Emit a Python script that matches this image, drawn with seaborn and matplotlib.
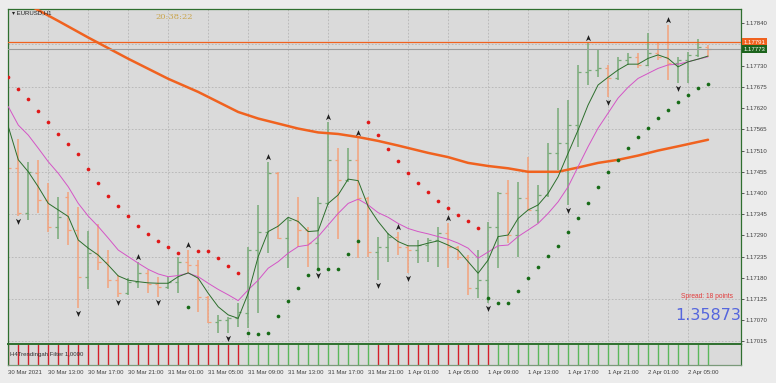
import numpy as np
import matplotlib
matplotlib.use("Agg")
import matplotlib.pyplot as plt
import matplotlib.transforms as mtransforms
from matplotlib.path import Path
import seaborn as sns

# EURUSD H1 bars, 30 Mar 2021 09:00 onwards
opens = [1.17584, 1.17465, 1.17348, 1.17452, 1.17382, 1.17312, 1.17390, 1.17304, 1.17182, 1.17244,
         1.17221, 1.17174, 1.17141, 1.17169, 1.17193, 1.17164, 1.17156, 1.17169, 1.17221, 1.17213,
         1.17130, 1.17066, 1.17070, 1.17076, 1.17089, 1.17252, 1.17299, 1.17452, 1.17283, 1.17330,
         1.17304, 1.17270, 1.17374, 1.17486, 1.17434, 1.17486, 1.17387, 1.17247, 1.17260, 1.17286,
         1.17260, 1.17252, 1.17265, 1.17278, 1.17296, 1.17260, 1.17234, 1.17154, 1.17174, 1.17312,
         1.17400, 1.17291, 1.17387, 1.17356, 1.17395, 1.17504, 1.17530, 1.17576, 1.17714, 1.17719,
         1.17724, 1.17698, 1.17745, 1.17753, 1.17732, 1.17763, 1.17753, 1.17737, 1.17745, 1.17758,
         1.17779]
highs = [1.17628, 1.17540, 1.17480, 1.17486, 1.17426, 1.17390, 1.17403, 1.17364, 1.17301, 1.17320,
         1.17252, 1.17187, 1.17180, 1.17221, 1.17200, 1.17182, 1.17182, 1.17234, 1.17252, 1.17226,
         1.17133, 1.17084, 1.17079, 1.17115, 1.17260, 1.17369, 1.17480, 1.17455, 1.17335, 1.17390,
         1.17312, 1.17390, 1.17584, 1.17517, 1.17517, 1.17543, 1.17390, 1.17286, 1.17296, 1.17299,
         1.17265, 1.17278, 1.17283, 1.17312, 1.17322, 1.17262, 1.17239, 1.17252, 1.17325, 1.17403,
         1.17434, 1.17429, 1.17493, 1.17421, 1.17530, 1.17620, 1.17641, 1.17732, 1.17789, 1.17771,
         1.17732, 1.17753, 1.17763, 1.17763, 1.17815, 1.17789, 1.17836, 1.17753, 1.17766, 1.17799,
         1.17784]
lows = [1.17447, 1.17340, 1.17330, 1.17348, 1.17299, 1.17281, 1.17265, 1.17102, 1.17151, 1.17200,
        1.17154, 1.17130, 1.17136, 1.17154, 1.17141, 1.17130, 1.17151, 1.17141, 1.17193, 1.17091,
        1.17063, 1.17037, 1.17037, 1.17053, 1.17050, 1.17089, 1.17244, 1.17281, 1.17206, 1.17260,
        1.17208, 1.17200, 1.17369, 1.17281, 1.17429, 1.17231, 1.17234, 1.17174, 1.17221, 1.17239,
        1.17193, 1.17219, 1.17221, 1.17208, 1.17206, 1.17226, 1.17136, 1.17128, 1.17115, 1.17206,
        1.17270, 1.17234, 1.17356, 1.17322, 1.17390, 1.17460, 1.17369, 1.17519, 1.17680, 1.17701,
        1.17649, 1.17693, 1.17732, 1.17724, 1.17730, 1.17745, 1.17693, 1.17685, 1.17685, 1.17753,
        1.17753]
closes = [1.17465, 1.17348, 1.17454, 1.17382, 1.17312, 1.17338, 1.17304, 1.17182, 1.17244, 1.17221,
          1.17174, 1.17141, 1.17169, 1.17193, 1.17164, 1.17156, 1.17169, 1.17221, 1.17213, 1.17130,
          1.17066, 1.17070, 1.17076, 1.17091, 1.17252, 1.17299, 1.17452, 1.17283, 1.17330, 1.17304,
          1.17270, 1.17374, 1.17486, 1.17434, 1.17486, 1.17387, 1.17247, 1.17260, 1.17286, 1.17260,
          1.17252, 1.17265, 1.17278, 1.17296, 1.17260, 1.17234, 1.17154, 1.17174, 1.17312, 1.17400,
          1.17291, 1.17387, 1.17356, 1.17395, 1.17504, 1.17530, 1.17576, 1.17714, 1.17719, 1.17724,
          1.17698, 1.17745, 1.17753, 1.17732, 1.17763, 1.17753, 1.17737, 1.17745, 1.17758, 1.17779,
          1.17773]

# moving averages
ma_fast = [1.17572, 1.17486, 1.17455, 1.17416, 1.17373, 1.17356, 1.17339, 1.17278, 1.17257, 1.17239,
           1.17213, 1.17185, 1.17174, 1.17170, 1.17167, 1.17166, 1.17166, 1.17183, 1.17193, 1.17179,
           1.17140, 1.17105, 1.17084, 1.17075, 1.17140, 1.17235, 1.17300, 1.17314, 1.17337, 1.17326,
           1.17300, 1.17302, 1.17373, 1.17395, 1.17436, 1.17432, 1.17365, 1.17326, 1.17294, 1.17274,
           1.17263, 1.17263, 1.17270, 1.17276, 1.17265, 1.17252, 1.17222, 1.17192, 1.17226, 1.17287,
           1.17291, 1.17334, 1.17356, 1.17369, 1.17399, 1.17442, 1.17503, 1.17563, 1.17628, 1.17680,
           1.17700, 1.17719, 1.17734, 1.17734, 1.17749, 1.17758, 1.17749, 1.17727, 1.17740, 1.17747,
           1.17755]
ma_mid = [1.17624, 1.17576, 1.17550, 1.17516, 1.17481, 1.17451, 1.17416, 1.17373, 1.17340, 1.17313,
          1.17283, 1.17252, 1.17235, 1.17218, 1.17202, 1.17190, 1.17183, 1.17186, 1.17192, 1.17183,
          1.17166, 1.17150, 1.17136, 1.17121, 1.17149, 1.17174, 1.17205, 1.17222, 1.17244, 1.17261,
          1.17265, 1.17287, 1.17317, 1.17347, 1.17373, 1.17384, 1.17369, 1.17349, 1.17337, 1.17321,
          1.17308, 1.17300, 1.17294, 1.17287, 1.17280, 1.17270, 1.17257, 1.17231, 1.17247, 1.17263,
          1.17265, 1.17287, 1.17304, 1.17321, 1.17347, 1.17377, 1.17416, 1.17468, 1.17520, 1.17568,
          1.17607, 1.17646, 1.17674, 1.17697, 1.17710, 1.17723, 1.17732, 1.17734, 1.17740, 1.17747,
          1.17753]
ma_slow_bars = [0, 3, 5, 8, 12, 14, 16, 19, 23, 25, 27, 29, 31, 33, 35, 37, 39, 42, 44, 46, 48,
                50, 52, 55, 57, 59, 61, 63, 65, 67, 70]
ma_slow = [1.17916, 1.17874, 1.17846, 1.17803, 1.17748, 1.17722, 1.17696, 1.17662, 1.17610, 1.17593,
           1.17580, 1.17567, 1.17557, 1.17553, 1.17545, 1.17535, 1.17523, 1.17504, 1.17493, 1.17478,
           1.17470, 1.17464, 1.17455, 1.17455, 1.17466, 1.17478, 1.17486, 1.17497, 1.17510, 1.17521,
           1.17538]

# parabolic SAR
sar = [1.17700, 1.17669, 1.17643, 1.17613, 1.17583, 1.17554, 1.17526, 1.17500, 1.17461, 1.17425,
       1.17393, 1.17366, 1.17340, 1.17315, 1.17294, 1.17276, 1.17259, 1.17244, 1.17105, 1.17250,
       1.17250, 1.17232, 1.17211, 1.17193, 1.17036, 1.17034, 1.17037, 1.17081, 1.17121, 1.17153,
       1.17187, 1.17202, 1.17202, 1.17202, 1.17242, 1.17276, 1.17585, 1.17550, 1.17514, 1.17483,
       1.17453, 1.17425, 1.17402, 1.17380, 1.17360, 1.17344, 1.17327, 1.17308, 1.17127, 1.17116,
       1.17116, 1.17147, 1.17179, 1.17207, 1.17237, 1.17263, 1.17300, 1.17334, 1.17375, 1.17415,
       1.17454, 1.17486, 1.17517, 1.17544, 1.17568, 1.17594, 1.17615, 1.17635, 1.17654, 1.17671,
       1.17683]

fractal_up = [13, 18, 26, 32, 35, 39, 44, 58, 66]
fractal_down = [1, 7, 11, 15, 22, 31, 37, 40, 48, 56, 60, 67]

# trend filter sub-window: 1 = up (green), -1 = down (red)
trend_filter = [-1, -1, -1, -1, -1, -1, -1, -1, -1, -1, -1, -1, -1, -1, -1, -1, -1, -1, -1, -1,
                -1, -1, -1, -1, 1, 1, 1, 1, 1, 1, 1, 1, 1, 1, 1, 1, 1, -1, -1, -1,
                -1, -1, -1, -1, -1, -1, -1, -1, -1, 1, 1, 1, 1, 1, 1, 1, 1, 1, 1, 1,
                1, 1, 1, 1, 1, 1, 1, 1, 1, 1, 1]

ask, bid = 1.17791, 1.17773
price_ticks = [1.17015, 1.17070, 1.17125, 1.17180, 1.17235, 1.17290, 1.17345, 1.17400,
               1.17455, 1.17510, 1.17565, 1.17620, 1.17675, 1.17730, 1.17785, 1.17840]
hidden_tick = 1.17785  # sits under the ask/bid price tags
grid_levels = [1.17015, 1.17125, 1.17235, 1.17345, 1.17455, 1.17565, 1.17675, 1.17785]
date_bars = [0, 4, 8, 12, 16, 20, 24, 28, 32, 36, 40, 44, 48, 52, 56, 60, 64, 68]
date_labels = ["30 Mar 2021", "30 Mar 13:00", "30 Mar 17:00", "30 Mar 21:00", "31 Mar 01:00",
               "31 Mar 05:00", "31 Mar 09:00", "31 Mar 13:00", "31 Mar 17:00", "31 Mar 21:00",
               "1 Apr 01:00", "1 Apr 05:00", "1 Apr 09:00", "1 Apr 13:00", "1 Apr 17:00",
               "1 Apr 21:00", "2 Apr 01:00", "2 Apr 05:00"]

W, H = 776, 383
BG = "#ececec"
PLOT_BG = "#dadada"
FRAME = "#2f6f2f"
BULL = "#78aa78"
BEAR = "#f3a27c"
ORANGE = "#f0621f"
FS = 4.3

sns.set_theme(style="white")
plt.rcParams["font.family"] = ["Liberation Sans", "DejaVu Sans"]

fig = plt.figure(figsize=(W / 100, H / 100), dpi=100, facecolor=BG)
ax = fig.add_axes([8 / W, 1 - 344 / H, 733 / W, 335.5 / H], facecolor=PLOT_BG)
axp = fig.add_axes([8 / W, 1 - 365 / H, 733 / W, 21 / H], facecolor=PLOT_BG)

x = np.arange(len(opens))
o, h, l, c = map(np.array, (opens, highs, lows, closes))
cols = np.where(c >= o, BULL, BEAR)

# grid
for g in grid_levels:
    ax.axhline(g, color="#b4b4b4", lw=0.6, ls=(0, (2, 2)), zorder=0)
for d in date_bars:
    ax.axvline(d, color="#b4b4b4", lw=0.6, ls=(0, (2, 2)), zorder=0)

# OHLC bars
ax.vlines(x, l, h, colors=cols, lw=1.1, zorder=2)
ax.hlines(o, x - 0.32, x, colors=cols, lw=0.9, zorder=2)
ax.hlines(c, x, x + 0.32, colors=cols, lw=0.9, zorder=2)

# moving averages
sns.lineplot(x=ma_slow_bars, y=ma_slow, ax=ax, color=ORANGE, lw=1.8, zorder=3)
sns.lineplot(x=x, y=ma_mid, ax=ax, color="#d455c6", lw=0.7, zorder=3)
sns.lineplot(x=x, y=ma_fast, ax=ax, color="#2c6e2c", lw=0.7, zorder=3)

# SAR dots
sar_a = np.array(sar)
above = sar_a > c
ax.scatter(x[above], sar_a[above], s=7, color="#e01818", zorder=4, linewidths=0)
ax.scatter(x[~above], sar_a[~above], s=7, color="#176b17", zorder=4, linewidths=0)

# fractal arrows
up_mark = Path([(0, 1), (0.75, -0.8), (0, -0.3), (-0.75, -0.8), (0, 1)],
               [Path.MOVETO, Path.LINETO, Path.LINETO, Path.LINETO, Path.CLOSEPOLY])
dn_mark = Path([(0, -1), (0.75, 0.8), (0, 0.3), (-0.75, 0.8), (0, -1)],
               [Path.MOVETO, Path.LINETO, Path.LINETO, Path.LINETO, Path.CLOSEPOLY])
up_tr = mtransforms.offset_copy(ax.transData, fig=fig, x=0, y=5, units="dots")
dn_tr = mtransforms.offset_copy(ax.transData, fig=fig, x=0, y=-5, units="dots")
ax.scatter(fractal_up, h[fractal_up], marker=up_mark, s=24, color="#1e1e1e",
           transform=up_tr, zorder=5, linewidths=0)
ax.scatter(fractal_down, l[fractal_down], marker=dn_mark, s=24, color="#1e1e1e",
           transform=dn_tr, zorder=5, linewidths=0)

# ask / bid lines
ax.axhline(ask, color=ORANGE, lw=0.9, zorder=3)
ax.axhline(bid, color="#9c9c9c", lw=0.8, zorder=3)

ax.set_xlim(-0.03, 73.3)
ax.set_ylim(1.170085, 1.178783)
ax.set_xticks(date_bars)
ax.set_xticklabels([])
ax.tick_params(axis="x", length=0)
ax.yaxis.tick_right()
ax.set_yticks(price_ticks)
ax.set_yticklabels(["" if v == hidden_tick else f"{v:.5f}" for v in price_ticks])
ax.tick_params(axis="y", length=2, width=0.6, pad=1.5, labelsize=FS,
               labelcolor="#404040", color="#404040")
ax.set_xlabel("")
ax.set_ylabel("")
for s in ax.spines.values():
    s.set_color(FRAME)
    s.set_linewidth(0.9)

tag_tr = mtransforms.blended_transform_factory(ax.transAxes, ax.transData)
ax.text(1.004, ask, f"{ask:.5f}", transform=tag_tr, fontsize=FS, color="white",
        va="center", ha="left", zorder=10, clip_on=False,
        bbox=dict(boxstyle="square,pad=0.25", fc=ORANGE, ec="none"))
ax.text(1.004, bid, f"{bid:.5f}", transform=tag_tr, fontsize=FS, color="white",
        va="center", ha="left", zorder=10, clip_on=False,
        bbox=dict(boxstyle="square,pad=0.25", fc="#1c641c", ec="none"))

# trend filter sub-window
pcols = np.where(np.array(trend_filter) > 0, "#5bb85b", "#d41f2a")
axp.vlines(x, 0, 1, colors=pcols, lw=1.0)
axp.set_xlim(ax.get_xlim())
axp.set_ylim(0, 1)
axp.set_yticks([])
axp.set_xticks(date_bars)
axp.set_xticklabels(date_labels, ha="left")
axp.tick_params(axis="x", length=2, width=0.6, pad=1.5, labelsize=FS,
                labelcolor="#404040", color="#404040")
for s in axp.spines.values():
    s.set_color(FRAME)
    s.set_linewidth(0.9)
axp.spines["top"].set_linewidth(1.4)
axp.spines["bottom"].set_color("#7a9a7a")
axp.text(0.003, 0.5, "H4Trendingah Filter 1,0000", transform=axp.transAxes,
         fontsize=FS, color="#303030", va="center", ha="left")


def ftext(px, py, s, **kw):
    fig.text(px / W, 1 - py / H, s, **kw)


ftext(12, 13, "\u25be EURUSD,H1", fontsize=FS, color="#202020", va="center")
ftext(155, 17, "20:38:22", fontsize=6, color="#c9a54c", va="center", family="DejaVu Serif")
ftext(733, 296, "Spread: 18 points", fontsize=4.8, color="#e23b3b", va="center", ha="right")
ftext(741, 316, "1.35873", fontsize=11.5, color="#5566dd", va="center", ha="right",
      family="DejaVu Sans")

fig.savefig("out.png", dpi=100, facecolor=BG)
